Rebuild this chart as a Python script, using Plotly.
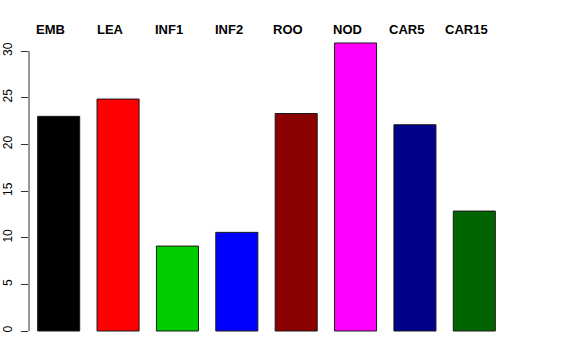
import plotly.graph_objects as go

categories = ["EMB", "LEA", "INF1", "INF2", "ROO", "NOD", "CAR5", "CAR15"]
values = [23.0, 24.85, 9.1, 10.57, 23.3, 30.86, 22.1, 12.85]
colors = ["#000000", "#FF0000", "#00CD00", "#0000FF", "#8B0000", "#FF00FF", "#00008B", "#006400"]
y_ticks = [0, 5, 10, 15, 20, 25, 30]

fig = go.Figure()
fig.add_trace(go.Bar(
    x=categories, y=values,
    marker=dict(color=colors, line=dict(color="#1a1a1a", width=1)),
    showlegend=False, hoverinfo="skip",
))

for c in categories:
    fig.add_annotation(
        x=c, y=1, xref="x", yref="paper", yshift=6, xshift=-8,
        text="<b>%s</b>" % c, showarrow=False,
        xanchor="center", yanchor="middle",
        font=dict(family="Liberation Sans, Arial, sans-serif", size=13, color="black"),
    )

# y axis line spanning only the tick range, as in base R
fig.add_shape(type="line", xref="paper", yref="y", x0=0, x1=0,
              y0=y_ticks[0], y1=y_ticks[-1], line=dict(color="#333333", width=1))

fig.update_layout(
    width=576, height=360,
    margin=dict(l=29, r=72, t=35, b=15, autoexpand=False),
    paper_bgcolor="white", plot_bgcolor="white",
    bargap=0.292,
    font=dict(family="Liberation Sans, Arial, sans-serif", size=12, color="black"),
    xaxis=dict(range=[-0.5, 7.5], showticklabels=False, showline=False,
               showgrid=False, zeroline=False, ticks="", automargin=False),
    yaxis=dict(range=[-1.5, 31.714], tickvals=y_ticks, ticktext=[str(v) for v in y_ticks],
               tickangle=-90, ticks="outside", ticklen=7, tickwidth=1, tickcolor="#333333",
               ticklabelstandoff=4,
               showline=False, showgrid=False, zeroline=False, automargin=False,
               tickfont=dict(size=12, color="black")),
)

fig.write_html("out.html", config={"displayModeBar": False},
               post_script="document.body.style.margin='0';")
